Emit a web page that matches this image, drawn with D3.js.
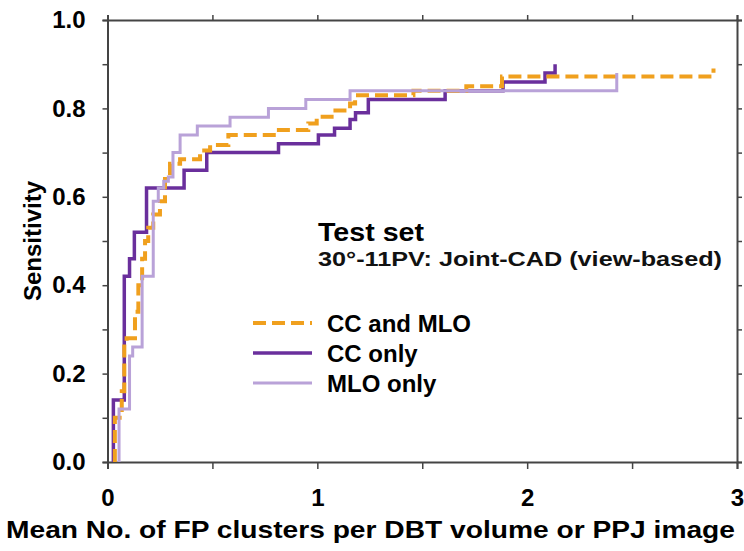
<!DOCTYPE html>
<html>
<head>
<meta charset="utf-8">
<script src="https://cdn.jsdelivr.net/npm/d3@7"></script>
<style>
  html, body { margin: 0; padding: 0; background: #fff; }
  svg { display: block; font-family: "Liberation Sans", Arial, sans-serif; }
</style>
</head>
<body>
<svg id="chart" width="744" height="551"></svg>
<script>
// ---- Data ----
const xTicks = [0, 0.5, 1, 1.5, 2, 2.5, 3];
const xTickLabels = ["0", "", "1", "", "2", "", "3"];
const yTicks = [0, 0.1, 0.2, 0.3, 0.4, 0.5, 0.6, 0.7, 0.8, 0.9, 1.0];
const yTickLabels = ["0.0", "", "0.2", "", "0.4", "", "0.6", "", "0.8", "", "1.0"];

const seriesNames = ["CC and MLO", "CC only", "MLO only"];

// CC and MLO (dashed orange)
const ccMloFP   = [0.035, 0.035, 0.068, 0.080, 0.091, 0.131, 0.147, 0.165, 0.179, 0.194, 0.218, 0.250, 0.274, 0.298, 0.346, 0.441, 0.489, 0.576, 0.806, 0.957, 0.997, 1.068, 1.156, 1.180, 1.458, 1.710, 1.880, 2.888, 2.888];
const ccMloSens = [0.00,  0.10,  0.16,  0.27,  0.28,  0.34,  0.40,  0.46,  0.50,  0.53,  0.56,  0.59,  0.64,  0.675, 0.685, 0.705, 0.717, 0.74,  0.751, 0.766, 0.781, 0.795, 0.811, 0.83,  0.84,  0.85,  0.872, 0.872, 0.89];

// CC only (dark purple)
const ccOnlyFP   = [0.028, 0.028, 0.080, 0.105, 0.128, 0.186, 0.365, 0.473, 0.815, 1.005, 1.082, 1.156, 1.182, 1.243, 1.609, 1.885, 2.085, 2.133];
const ccOnlySens = [0.00,  0.14,  0.42,  0.46,  0.52,  0.62,  0.66,  0.70,  0.72,  0.74,  0.755, 0.775, 0.79,  0.82,  0.84,  0.86,  0.88,  0.90];

// MLO only (light purple)
const mloOnlyFP   = [0.055, 0.055, 0.105, 0.120, 0.165, 0.218, 0.242, 0.268, 0.290, 0.312, 0.346, 0.428, 0.584, 0.767, 0.945, 1.156, 2.427];
const mloOnlySens = [0.00,  0.12,  0.24,  0.26,  0.42,  0.59,  0.62,  0.635, 0.645, 0.70,  0.74,  0.76,  0.78,  0.80,  0.82,  0.84,  0.88];

// ---- Layout ----
const svg = d3.select("#chart");
const plotL = 107.5, plotR = 737, plotT = 20, plotB = 462;
const x = d3.scaleLinear().domain([0, 3]).range([plotL, plotR]);
const y = d3.scaleLinear().domain([0, 1]).range([plotB, plotT]);
const axisColor = "#444";

// Axes
const gB = svg.append("g").attr("transform", `translate(0,${plotB})`)
  .call(d3.axisBottom(x).tickValues(xTicks).tickSize(7).tickPadding(20)
    .tickFormat((d, i) => xTickLabels[i]));
const gT = svg.append("g").attr("transform", `translate(0,${plotT})`)
  .call(d3.axisTop(x).tickValues(xTicks).tickSize(5).tickFormat(""));
const gL = svg.append("g").attr("transform", `translate(${plotL},0)`)
  .call(d3.axisLeft(y).tickValues(yTicks).tickSize(5).tickPadding(17)
    .tickFormat((d, i) => yTickLabels[i]));
const gR = svg.append("g").attr("transform", `translate(${plotR},0)`)
  .call(d3.axisRight(y).tickValues(yTicks).tickSize(5).tickFormat(""));

[gB, gT, gL, gR].forEach(g => {
  g.select(".domain").attr("stroke", axisColor).attr("stroke-width", 2);
  g.selectAll(".tick line").attr("stroke", axisColor).attr("stroke-width", 1.5);
  g.selectAll(".tick text").attr("fill", "#000")
    .style("font-size", "24px").style("font-weight", "bold")
    .style("font-family", "'Liberation Sans', Arial, sans-serif");
});

// Step curves
const line = d3.line().curve(d3.curveStepAfter).x(d => x(d[0])).y(d => y(d[1]));
const zip = (a, b) => a.map((v, i) => [v, b[i]]);

const series = [
  { name: seriesNames[1], data: zip(ccOnlyFP, ccOnlySens), color: "#6a2f9c", width: 3.5, dash: null },
  { name: seriesNames[0], data: zip(ccMloFP, ccMloSens), color: "#f0a01e", width: 4, dash: "13,6" },
  { name: seriesNames[2], data: zip(mloOnlyFP, mloOnlySens), color: "#b9a2d8", width: 3, dash: null }
];

series.forEach(s => {
  svg.append("path")
    .datum(s.data)
    .attr("d", line)
    .attr("fill", "none")
    .attr("stroke", s.color)
    .attr("stroke-width", s.width)
    .attr("stroke-dasharray", s.dash);
});

// Annotation text
svg.append("text").attr("x", 318).attr("y", 241)
  .attr("textLength", 106).attr("lengthAdjust", "spacingAndGlyphs")
  .style("font-size", "25px").style("font-weight", "bold").text("Test set");
svg.append("text").attr("x", 318).attr("y", 266)
  .attr("textLength", 404).attr("lengthAdjust", "spacingAndGlyphs")
  .style("font-size", "20px").style("font-weight", "bold").attr("fill", "#111")
  .text("30°-11PV: Joint-CAD (view-based)");

// Legend
const legendItems = [
  { label: seriesNames[0], color: "#f0a01e", width: 4, dash: "13,6", y: 323 },
  { label: seriesNames[1], color: "#6a2f9c", width: 3.5, dash: null, y: 353 },
  { label: seriesNames[2], color: "#b9a2d8", width: 3, dash: null, y: 383 }
];
legendItems.forEach(it => {
  svg.append("line").attr("x1", 253).attr("x2", 312).attr("y1", it.y).attr("y2", it.y)
    .attr("stroke", it.color).attr("stroke-width", it.width).attr("stroke-dasharray", it.dash);
  svg.append("text").attr("x", 327).attr("y", it.y + 8.5)
    .style("font-size", "24px").style("font-weight", "bold").text(it.label);
});

// Axis titles
svg.append("text").attr("x", (6 + 735) / 2).attr("y", 538).attr("text-anchor", "middle")
  .attr("textLength", 729).attr("lengthAdjust", "spacingAndGlyphs")
  .style("font-size", "24px").style("font-weight", "bold")
  .text("Mean No. of FP clusters per DBT volume or PPJ image");
svg.append("text").attr("transform", `translate(41,${(plotT + plotB) / 2}) rotate(-90)`)
  .attr("text-anchor", "middle")
  .style("font-size", "24px").style("font-weight", "bold")
  .text("Sensitivity");
</script>
</body>
</html>
